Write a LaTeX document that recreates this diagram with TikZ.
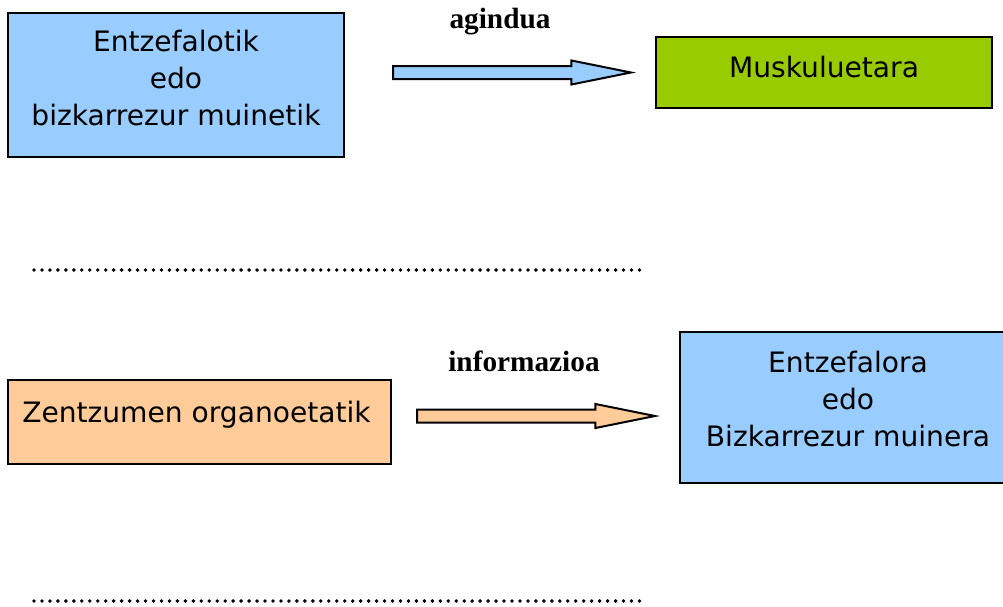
\documentclass[tikz,border=0pt]{standalone}
\usepackage{fontspec}
\setsansfont{DejaVu Sans}
\setmainfont{Liberation Serif}
\usepackage{tikz}
\usetikzlibrary{calc}
\definecolor{boxblue}{HTML}{99CCFF}
\definecolor{boxgreen}{HTML}{99CC00}
\definecolor{boxorange}{HTML}{FFCC99}

% block arrow between two named points: from, to, colour
\newcommand{\fatarrow}[3]{%
  \draw[fatline, fill=#3] ($(#1)+(0,-6.5)$) -- ($(#2)+(-59.5,-6.5)$) -- ($(#2)+(-59.5,-12)$) -- (#2)
    -- ($(#2)+(-59.5,12)$) -- ($(#2)+(-59.5,6.5)$) -- ($(#1)+(0,6.5)$) -- cycle;}

\begin{document}
\begin{tikzpicture}[x=0.03cm, y=-0.03cm,
    box/.style={draw=black, line width=1.8pt, minimum width=10.08cm, inner sep=0pt},
    boxtext/.style={font=\sffamily\fontsize{24}{31.5}\selectfont, align=center, inner sep=0pt},
    arrowtext/.style={font=\rmfamily\bfseries\fontsize{25}{30}\selectfont, inner sep=0pt},
    fatline/.style={draw=black, line width=1.7pt, line join=miter},
    dotline/.style={line width=3.3pt, line cap=round, dash pattern=on 0pt off 6.8pt}]
  \fill[white] (0,0) rectangle (1003,606);
  \useasboundingbox (0,0) rectangle (1003,606);

  % top row: command
  \node[box, fill=boxblue, minimum height=4.32cm] (entz) at (176,85) {};
  \node[boxtext] (entz-txt) at ($(entz)+(0,-6.7)$) {Entzefalotik\\edo\\bizkarrezur muinetik};
  \node[box, fill=boxgreen, minimum height=2.13cm] (musk) at (824,72.5) {};
  \node[boxtext] (musk-txt) at ($(musk)+(0,-5.9)$) {Muskuluetara};

  \coordinate (cmd-a) at ($(entz.east)+(48,-12.5)$);
  \coordinate (cmd-b) at ($(musk.west)+(-24,0)$);
  \fatarrow{cmd-a}{cmd-b}{boxblue}
  \node[arrowtext] (cmd-lbl) at (500,21.5) {agindua};

  \coordinate (dots1-a) at (34,270);
  \coordinate (dots1-b) at (645,270);
  \draw[dotline] (dots1-a) -- (dots1-b);

  % bottom row: information
  \node[box, fill=boxorange, minimum width=11.49cm, minimum height=2.52cm] (zentz) at (199.5,422) {};
  \node[boxtext] (zentz-txt) at ($(zentz)+(-3,-7.4)$) {Zentzumen organoetatik};
  \node[box, fill=boxblue, minimum height=4.53cm] (entz2) at (848,407.5) {};
  \node[boxtext] (entz2-txt) at ($(entz2)+(0,-8.2)$) {Entzefalora\\edo\\Bizkarrezur muinera};

  \coordinate (info-a) at ($(zentz.east)+(25,-6)$);
  \coordinate (info-b) at ($(entz2.west)+(-24,8.5)$);
  \fatarrow{info-a}{info-b}{boxorange}
  \node[arrowtext] (info-lbl) at (524,361.7) {informazioa};

  \coordinate (dots2-a) at (34,601);
  \coordinate (dots2-b) at (645,601);
  \draw[dotline] (dots2-a) -- (dots2-b);
\end{tikzpicture}
\end{document}
